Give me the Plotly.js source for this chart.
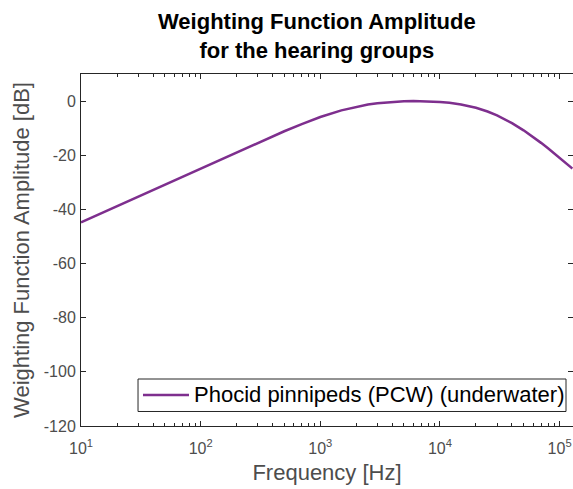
<!DOCTYPE html>
<html><head><meta charset="utf-8">
<script src="https://cdn.plot.ly/plotly-3.0.1.min.js"></script>
<style>html,body{margin:0;padding:0;background:#fff}#plot{width:573px;height:489px}</style>
</head><body><div id="plot"></div>
<script>
const freqHz = [10, 20, 50, 100, 200, 300, 500, 700, 1000, 1500, 2000, 2500, 3000, 4000, 5000, 6000, 7000, 8000, 10000, 12000, 15000, 20000, 25000, 30000, 35000, 40000, 50000, 60000, 70000, 80000, 100000, 120000, 128000];
const amplitudeDb = [-44.8, -38.8, -30.8, -24.8, -18.85, -15.39, -11.14, -8.48, -5.90, -3.43, -2.08, -1.29, -0.80, -0.29, -0.07, -0.01, -0.02, -0.09, -0.32, -0.65, -1.26, -2.48, -3.86, -5.29, -6.73, -8.13, -10.80, -13.23, -15.43, -17.43, -20.91, -23.86, -24.92];
const seriesName = 'Phocid pinnipeds (PCW) (underwater)';
const xTickVals = [10, 100, 1000, 10000, 100000];
const xTickText = ['10<sup>1</sup>', '10<sup>2</sup>', '10<sup>3</sup>', '10<sup>4</sup>', '10<sup>5</sup>'];
const xMinorTicks = [20,30,40,50,60,70,80,90,200,300,400,500,600,700,800,900,2000,3000,4000,5000,6000,7000,8000,9000,20000,30000,40000,50000,60000,70000,80000,90000];
const yTicks = [0, -20, -40, -60, -80, -100, -120];
const yTickText = ['0', '-20', '-40', '-60', '-80', '-100', '-120'];

const axisColor = '#262626';
const tickFontColor = '#4d4d4d';
const lineColor = '#7E2F8E';
const trace = {
  x: freqHz, y: amplitudeDb, type: 'scatter', mode: 'lines', name: seriesName,
  line: {color: lineColor, width: 2.5}
};
// legend drawn MATLAB-style (box, long sample line, text)
const legY = 0.0881;
const layout = {
  width: 573, height: 489,
  margin: {l: 81, r: 0, t: 74, b: 63},
  paper_bgcolor: '#fff', plot_bgcolor: '#fff',
  font: {family: 'Liberation Sans, Arial, sans-serif', color: axisColor},
  showlegend: false,
  shapes: [
    {type: 'rect', xref: 'paper', yref: 'paper', x0: 0.1159, x1: 0.9858, y0: 0.0412, y1: 0.1335,
     line: {color: axisColor, width: 1}, fillcolor: '#fff', layer: 'above'},
    {type: 'line', xref: 'paper', yref: 'paper', x0: 0.1260, x1: 0.2195, y0: legY, y1: legY,
     line: {color: lineColor, width: 2.5}, layer: 'above'}
  ],
  annotations: [{
    text: '<b>Weighting Function Amplitude<br>for the hearing groups</b>',
    xref: 'paper', yref: 'paper', x: 0.479, y: 1.107, xanchor: 'center', yanchor: 'middle',
    showarrow: false, font: {size: 22, color: '#000'}
  }, {
    text: seriesName, xref: 'paper', yref: 'paper', x: 0.2256, y: legY, xanchor: 'left', yanchor: 'middle',
    showarrow: false, font: {size: 22, color: '#000'}
  }],
  xaxis: {
    type: 'log', range: [1, 5.112], tickvals: xTickVals, ticktext: xTickText,
    showgrid: false, zeroline: false, showline: true, linecolor: axisColor, linewidth: 1, mirror: 'ticks',
    ticks: 'inside', ticklen: 5, tickcolor: axisColor, tickfont: {size: 16, color: tickFontColor},
    ticklabelstandoff: 8,
    minor: {tickvals: xMinorTicks, ticks: 'inside', ticklen: 3, tickcolor: axisColor, showgrid: false},
    title: {text: 'Frequency [Hz]', font: {size: 22, color: tickFontColor}, standoff: 8}
  },
  yaxis: {
    range: [-120, 10], tickvals: yTicks, ticktext: yTickText,
    showgrid: false, zeroline: false, showline: true, linecolor: axisColor, linewidth: 1, mirror: 'ticks',
    ticks: 'inside', ticklen: 5, tickcolor: axisColor, tickfont: {size: 16, color: tickFontColor},
    ticklabelstandoff: 1,
    title: {text: 'Weighting Function Amplitude [dB]', font: {size: 22, color: tickFontColor}, standoff: 8}
  }
};
Plotly.newPlot('plot', [trace], layout, {staticPlot: true, displayModeBar: false});
</script></body></html>
